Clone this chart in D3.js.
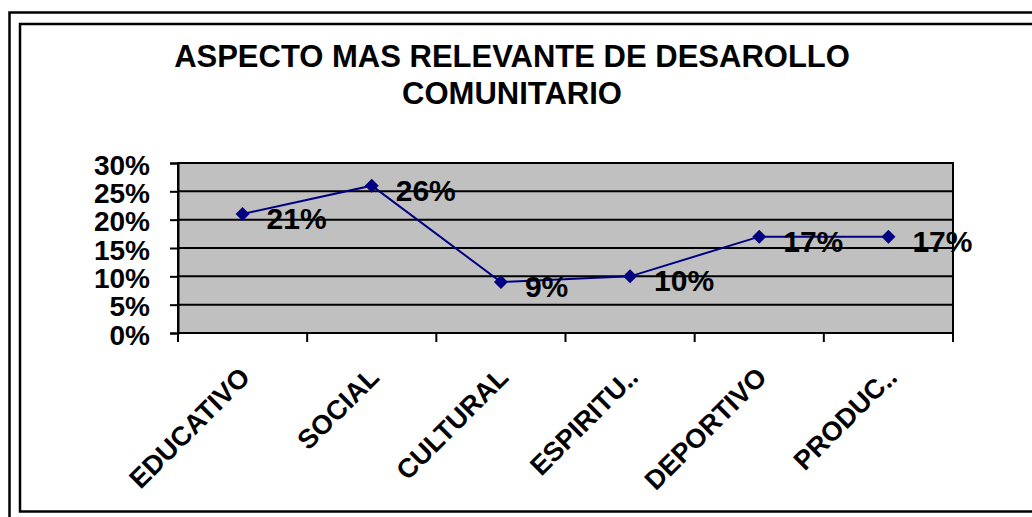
<!DOCTYPE html>
<html>
<head>
<meta charset="utf-8">
<script src="https://cdn.jsdelivr.net/npm/d3@7"></script>
<style>
  body { margin: 0; background: #fff; }
  svg text { font-family: "Liberation Sans", Arial, sans-serif; font-weight: bold; fill: #000; }
</style>
</head>
<body>
<div id="chart"></div>
<script>

var categories = [ 'EDUCATIVO', 'SOCIAL', 'CULTURAL', 'ESPIRITU‥', 'DEPORTIVO', 'PRODUC‥' ],
    values     = [ 0.21, 0.26, 0.09, 0.10, 0.17, 0.17 ],
    yTicks     = [ 0, 0.05, 0.10, 0.15, 0.20, 0.25, 0.30 ],
    titleLines = [ 'ASPECTO MAS RELEVANTE DE DESAROLLO', 'COMUNITARIO' ];

var W = 1032, H = 517,
    plot = { left: 178, right: 953, top: 163, bottom: 333 };

var svg = d3.select( '#chart' ).append( 'svg' )
    .attr( 'width', W )
    .attr( 'height', H );

// page frame (outer) and chart frame (inner)
svg.append( 'path' )
    .attr( 'd', `M9.5,${H} V12.5 H${W}` )
    .attr( 'fill', 'none' )
    .attr( 'stroke', '#000' )
    .attr( 'stroke-width', 2.5 );

svg.append( 'rect' )
    .attr( 'x', 20 ).attr( 'y', 24 )
    .attr( 'width', W ).attr( 'height', 487.5 )
    .attr( 'fill', 'none' )
    .attr( 'stroke', '#000' )
    .attr( 'stroke-width', 2.5 );

var x = d3.scaleBand()
    .domain( categories )
    .range([ plot.left, plot.right ])
    .padding( 0 );

var y = d3.scaleLinear()
    .domain([ 0, 0.30 ])
    .range([ plot.bottom, plot.top ]);

// title
svg.append( 'g' )
    .attr( 'class', 'title' )
    .selectAll( 'text' ).data( titleLines ).enter()
  .append( 'text' )
    .attr( 'x', 512 )
    .attr( 'y', (d, i) => 67 + i * 37 )
    .style( 'font-size', '31px' )
    .style( 'text-anchor', 'middle' )
    .text( String );

// plot background
svg.append( 'rect' )
    .attr( 'x', plot.left ).attr( 'y', plot.top )
    .attr( 'width', plot.right - plot.left )
    .attr( 'height', plot.bottom - plot.top )
    .attr( 'fill', '#c0c0c0' );

// gridlines
svg.append( 'g' )
    .attr( 'class', 'grid' )
    .selectAll( 'line' ).data( yTicks ).enter()
  .append( 'line' )
    .attr( 'x1', plot.left ).attr( 'x2', plot.right )
    .attr( 'y1', y ).attr( 'y2', y )
    .attr( 'stroke', '#000' )
    .attr( 'stroke-width', 2 );

svg.append( 'rect' )
    .attr( 'x', plot.left ).attr( 'y', plot.top )
    .attr( 'width', plot.right - plot.left )
    .attr( 'height', plot.bottom - plot.top )
    .attr( 'fill', 'none' )
    .attr( 'stroke', '#000' )
    .attr( 'stroke-width', 2 );

// y axis
var yAxis = svg.append( 'g' )
    .attr( 'transform', `translate(${plot.left},0)` )
    .call( d3.axisLeft( y ).tickValues( yTicks ).tickSize( 8 ).tickPadding( 20 )
      .tickFormat( d3.format( '.0%' ) ) );

yAxis.select( '.domain' ).attr( 'stroke', '#000' ).attr( 'stroke-width', 2 );
yAxis.selectAll( '.tick line' ).attr( 'stroke', '#000' ).attr( 'stroke-width', 2 );
yAxis.selectAll( '.tick text' )
    .attr( 'dy', '.4em' )
    .style( 'font-size', '28px' )
    .style( 'font-family', '"Liberation Sans", Arial, sans-serif' )
    .style( 'font-weight', 'bold' );

// x axis: ticks between categories
var xAxis = svg.append( 'g' )
    .attr( 'transform', `translate(0,${plot.bottom})` );

xAxis.append( 'line' )
    .attr( 'x1', plot.left ).attr( 'x2', plot.right )
    .attr( 'stroke', '#000' ).attr( 'stroke-width', 2 );

xAxis.selectAll( '.xtick' )
    .data( categories.concat([ null ]) ).enter()
  .append( 'line' )
    .attr( 'class', 'xtick' )
    .attr( 'x1', (d, i) => i < categories.length ? x( d ) : x.range()[1] )
    .attr( 'x2', (d, i) => i < categories.length ? x( d ) : x.range()[1] )
    .attr( 'y1', 0 ).attr( 'y2', 9 )
    .attr( 'stroke', '#000' ).attr( 'stroke-width', 2 );

svg.append( 'g' )
    .attr( 'class', 'xlabels' )
    .selectAll( 'text' ).data( categories ).enter()
  .append( 'text' )
    .attr( 'transform', d => `translate(${x( d ) + x.bandwidth() / 2 + 9},379) rotate(-45)` )
    .style( 'font-size', '27px' )
    .style( 'text-anchor', 'end' )
    .text( String );

// series
var cx = (d, i) => x( categories[i] ) + x.bandwidth() / 2;

var line = d3.line()
    .x( cx )
    .y( d => y( d ) );

svg.append( 'path' )
    .datum( values )
    .attr( 'd', line )
    .attr( 'fill', 'none' )
    .attr( 'stroke', '#000080' )
    .attr( 'stroke-width', 2 );

svg.append( 'g' )
    .attr( 'class', 'markers' )
    .selectAll( 'path' ).data( values ).enter()
  .append( 'path' )
    .attr( 'd', 'M0,-7 L7,0 L0,7 L-7,0 Z' )
    .attr( 'transform', (d, i) => `translate(${cx( d, i )},${y( d )})` )
    .attr( 'fill', '#000080' );

svg.append( 'g' )
    .attr( 'class', 'labels' )
    .selectAll( 'text' ).data( values ).enter()
  .append( 'text' )
    .attr( 'x', (d, i) => cx( d, i ) + 24 )
    .attr( 'y', d => y( d ) + 15 )
    .style( 'font-size', '30px' )
    .text( d => d3.format( '.0%' )( d ) );

</script>
</body>
</html>
